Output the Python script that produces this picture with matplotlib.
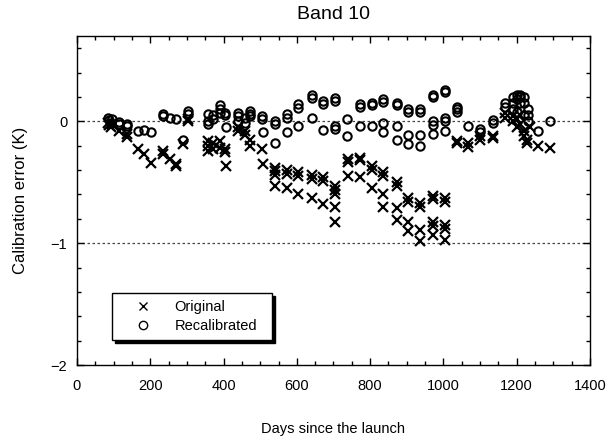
import matplotlib.pyplot as plt
from matplotlib.ticker import MultipleLocator

plt.rcParams['font.family'] = ['Liberation Sans', 'DejaVu Sans']

# Original calibration error (K) vs days since launch
orig_days = [85, 88, 92, 95, 115, 136, 136, 167, 183, 201,
             236, 236, 254, 270, 270, 290, 304, 304,
             358, 358, 358, 372, 372, 390, 390, 404, 404, 408,
             440, 440, 459, 459, 472, 472, 504, 507,
             540, 540, 540, 540, 572, 572, 572, 604, 604, 604,
             640, 640, 640, 672, 672, 672,
             704, 704, 704, 704, 704, 740, 740, 740,
             772, 772, 772, 804, 804, 804,
             836, 836, 836, 836, 872, 872, 872, 872,
             904, 904, 904, 904, 936, 936, 936, 936,
             971, 971, 971, 971, 971, 1004, 1004, 1004, 1004, 1004,
             1036, 1036, 1068, 1068, 1100, 1100, 1134, 1134, 1168, 1168,
             1190, 1190, 1200, 1200, 1210, 1210, 1220, 1220, 1227, 1227, 1236,
             1259, 1291]
orig_err = [-0.01, -0.03, -0.05, -0.02, -0.08, -0.13, -0.10, -0.23, -0.27, -0.34,
            -0.24, -0.27, -0.31, -0.35, -0.37, -0.19, 0.02, 0.00,
            -0.16, -0.20, -0.24, -0.23, -0.18, -0.16, -0.22, -0.23, -0.25, -0.37,
            -0.05, -0.08, -0.11, -0.08, -0.20, -0.15, -0.23, -0.35,
            -0.38, -0.41, -0.44, -0.53, -0.40, -0.43, -0.55, -0.42, -0.45, -0.60,
            -0.44, -0.47, -0.63, -0.46, -0.49, -0.68,
            -0.53, -0.56, -0.60, -0.70, -0.83, -0.31, -0.33, -0.45,
            -0.30, -0.32, -0.46, -0.37, -0.40, -0.55,
            -0.42, -0.45, -0.60, -0.70, -0.50, -0.53, -0.71, -0.81,
            -0.63, -0.66, -0.83, -0.90, -0.67, -0.70, -0.89, -0.98,
            -0.61, -0.64, -0.83, -0.86, -0.93, -0.63, -0.66, -0.85, -0.88, -0.97,
            -0.16, -0.18, -0.18, -0.21, -0.12, -0.15, -0.12, -0.14, 0.07, 0.03,
            0.04, 0.00, 0.02, -0.05, -0.02, 0.05, -0.08, -0.12, -0.18, -0.15, -0.05,
            -0.20, -0.22]

# Recalibrated calibration error (K)
recal_days = [85, 88, 92, 95, 115, 115, 136, 136, 167, 183, 201,
              236, 236, 254, 270, 290, 304, 304,
              358, 358, 358, 372, 372, 390, 390, 390, 404, 404, 408,
              440, 440, 440, 459, 459, 472, 472, 472, 504, 504, 507,
              540, 540, 540, 572, 572, 572, 604, 604, 604,
              640, 640, 640, 672, 672, 672, 704, 704, 704, 704,
              736, 736, 772, 772, 772, 804, 804, 804,
              836, 836, 836, 836, 872, 872, 872, 872,
              904, 904, 904, 904, 936, 936, 936, 936,
              971, 971, 971, 971, 971, 1004, 1004, 1004, 1004, 1004,
              1036, 1036, 1036, 1068, 1100, 1100, 1134, 1134, 1168, 1168,
              1190, 1190, 1190, 1200, 1200, 1200, 1210, 1210, 1210,
              1220, 1220, 1220, 1230, 1230, 1230,
              1259, 1291]
recal_err = [0.03, 0.01, -0.01, 0.02, -0.005, -0.02, -0.04, -0.02, -0.08, -0.07, -0.09,
             0.06, 0.04, 0.03, 0.02, -0.15, 0.085, 0.06,
             0.06, 0.00, -0.02, 0.05, 0.02, 0.13, 0.07, 0.10, 0.07, 0.05, -0.05,
             0.07, 0.04, 0.00, -0.01, 0.03, 0.085, 0.06, 0.04, 0.04, 0.02, -0.09,
             -0.02, 0.00, -0.18, 0.06, 0.03, -0.09, 0.14, 0.11, -0.04,
             0.22, 0.19, 0.03, 0.17, 0.14, -0.07, 0.195, 0.17, -0.066, -0.04,
             0.016, -0.12, 0.14, 0.12, -0.04, 0.15, 0.13, -0.04,
             0.18, 0.16, -0.01, -0.09, 0.15, 0.13, -0.04, -0.15,
             0.10, 0.08, -0.11, -0.19, 0.10, 0.08, -0.11, -0.20,
             0.22, 0.20, 0.003, -0.03, -0.10, 0.26, 0.24, 0.03, 0.00, -0.08,
             0.10, 0.08, 0.12, -0.04, -0.09, -0.06, -0.01, 0.01, 0.15, 0.12,
             0.20, 0.15, 0.10, 0.22, 0.18, 0.08, 0.22, 0.20, 0.15,
             0.20, 0.15, 0.05, 0.10, 0.05, 0.00,
             -0.08, 0.00]

fig = plt.figure(figsize=(6.09, 4.41), dpi=100)
ax = fig.add_axes([0.1264, 0.1723, 0.8424, 0.746])

# reference lines
for yv in [0, -1]:
    ax.axhline(yv, color='#444444', linestyle=(0, (2, 2)), linewidth=0.9, zorder=1)

ax.plot(orig_days, orig_err, linestyle='none', marker='x', markersize=7,
        markeredgewidth=1.6, color='black', label='Original', zorder=3)
ax.plot(recal_days, recal_err, linestyle='none', marker='o', markersize=6,
        markeredgewidth=1.5, markerfacecolor='none', markeredgecolor='black',
        label='Recalibrated', zorder=4)

ax.set_xlim(0, 1400)
ax.set_ylim(-2, 0.7)
ax.xaxis.set_major_locator(MultipleLocator(200))
ax.xaxis.set_minor_locator(MultipleLocator(50))
ax.yaxis.set_major_locator(MultipleLocator(1))
ax.yaxis.set_minor_locator(MultipleLocator(0.2))
ax.tick_params(which='both', direction='in', top=True, right=True,
               color='black', width=1)
ax.tick_params(which='major', length=5, labelsize=10.5)
ax.tick_params(which='minor', length=3)
ax.tick_params(axis='x', which='major', pad=10)
ax.tick_params(axis='y', which='major', pad=7)
for s in ax.spines.values():
    s.set_linewidth(1)

ax.set_title('Band 10', fontsize=14, pad=12)
ax.set_xlabel('Days since the launch', fontsize=10.5, labelpad=21)
ax.set_ylabel('Calibration error (K)', fontsize=12, labelpad=16)

leg = ax.legend(loc='lower left', bbox_to_anchor=(0.068, 0.076, 0.312, 0.161),
                mode='expand', borderaxespad=0, fontsize=10.5, frameon=True,
                fancybox=False, edgecolor='black', framealpha=1,
                shadow={'color': 'black', 'alpha': 1}, handlelength=3.3,
                handletextpad=0.5, borderpad=0.5, labelspacing=0.3)
# thinner markers in the legend key
for h in leg.legend_handles:
    h.set_markeredgewidth(1.0)
    h.set_markersize(6)

plt.savefig('out.png', dpi=100)
